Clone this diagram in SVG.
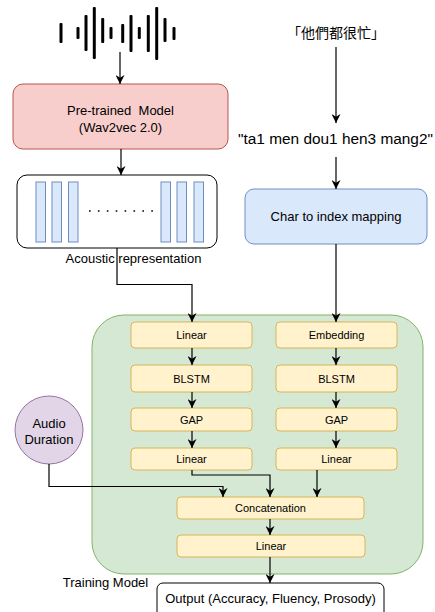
<svg xmlns="http://www.w3.org/2000/svg" width="435" height="612" viewBox="0 0 435 612">
<defs>
<marker id="arr" viewBox="0 0 10 10" refX="10" refY="5" markerWidth="9" markerHeight="9" markerUnits="userSpaceOnUse" orient="auto">
<path d="M0,0 L10,5 L0,10 L3,5 z" fill="#000"/>
</marker>
<style>
text{font-family:"Liberation Sans",Arial,sans-serif;fill:#000;text-anchor:middle}
.t13{font-size:13px}
.t11{font-size:11px}
.yel{fill:#fff2cc;stroke:#d6b656;stroke-width:1}
.conn{fill:none;stroke:#000;stroke-width:1.2;marker-end:url(#arr)}
.line{fill:none;stroke:#000;stroke-width:1.2}
.bar{fill:#dae8fc;stroke:#6c8ebf;stroke-width:1}
.wave{fill:#000}
</style>
</defs>
<rect width="435" height="612" fill="#fff"/>

<g id="waveform">
<rect class="wave" x="59.5" y="23" width="3" height="20" rx="1"/>
<rect class="wave" x="76.5" y="27" width="3" height="12" rx="1"/>
<rect class="wave" x="84.5" y="15" width="3" height="36" rx="1"/>
<rect class="wave" x="92.8" y="7" width="3" height="52" rx="1"/>
<rect class="wave" x="101.2" y="18" width="3" height="25" rx="1"/>
<rect class="wave" x="109.5" y="27" width="3" height="12" rx="1"/>
<rect class="wave" x="121.2" y="24" width="3" height="19" rx="1"/>
<rect class="wave" x="129.5" y="15" width="3" height="37" rx="1"/>
<rect class="wave" x="137.8" y="27" width="3" height="12" rx="1"/>
<rect class="wave" x="146.8" y="15" width="3" height="37" rx="1"/>
<rect class="wave" x="155.2" y="7" width="3" height="53" rx="1"/>
<rect class="wave" x="163.5" y="18" width="3" height="24" rx="1"/>
<rect class="wave" x="172.5" y="27" width="3" height="13" rx="1"/>
</g>

<g id="pretrained">
<rect x="13" y="84" width="215" height="65" rx="10" fill="#f8cecc" stroke="#b85450" stroke-width="1"/>
<text class="t13" x="120.5" y="114.5" xml:space="preserve">Pre-trained  Model</text>
<text class="t13" x="120.5" y="132">(Wav2vec 2.0)</text>
</g>

<g id="acoustic">
<rect x="17" y="175" width="200" height="73" rx="10" fill="#fff" stroke="#000" stroke-width="1"/>
<rect class="bar" x="36" y="182" width="9.5" height="60"/>
<rect class="bar" x="52" y="182" width="9.5" height="60"/>
<rect class="bar" x="68.5" y="182" width="9.5" height="60"/>
<rect class="bar" x="161" y="182" width="9.5" height="60"/>
<rect class="bar" x="177" y="182" width="9.5" height="60"/>
<rect class="bar" x="194" y="182" width="9.5" height="60"/>
<line x1="89" y1="211" x2="154" y2="211" stroke="#000" stroke-width="1.6" stroke-dasharray="1.6 7.3"/>
<text class="t13" x="133.5" y="263">Acoustic representation</text>
</g>

<g id="chinese">
<text x="336" y="38" style="font-size:14px;font-family:'Noto Sans CJK TC','Noto Sans CJK SC',sans-serif">「他們都很忙」</text>
</g>

<g id="pinyin">
<text x="335.5" y="143.5" style="font-size:15.4px">"ta1 men dou1 hen3 mang2"</text>
</g>

<g id="charmap">
<rect x="245" y="189" width="182" height="55" rx="9" fill="#dae8fc" stroke="#6c8ebf" stroke-width="1"/>
<text class="t13" x="336" y="221">Char to index mapping</text>
</g>

<g id="training">
<rect x="92" y="315" width="331" height="259" rx="32" fill="#d5e8d4" stroke="#82b366" stroke-width="1"/>
<text class="t13" x="105.5" y="587">Training Model</text>
</g>

<g id="linear1"><rect class="yel" x="131" y="322" width="121" height="26" rx="4"/><text class="t11" x="191.5" y="339">Linear</text></g>
<g id="blstm1"><rect class="yel" x="131" y="365" width="121" height="27" rx="4"/><text class="t11" x="191.5" y="382.5">BLSTM</text></g>
<g id="gap1"><rect class="yel" x="131" y="408" width="121" height="23" rx="4"/><text class="t11" x="191.5" y="423.5">GAP</text></g>
<g id="linear2"><rect class="yel" x="131" y="448" width="121" height="22" rx="4"/><text class="t11" x="191.5" y="463">Linear</text></g>

<g id="embedding"><rect class="yel" x="276" y="322" width="121" height="26" rx="4"/><text class="t11" x="336.5" y="339">Embedding</text></g>
<g id="blstm2"><rect class="yel" x="276" y="365" width="121" height="27" rx="4"/><text class="t11" x="336.5" y="382.5">BLSTM</text></g>
<g id="gap2"><rect class="yel" x="276" y="408" width="121" height="23" rx="4"/><text class="t11" x="336.5" y="423.5">GAP</text></g>
<g id="linear3"><rect class="yel" x="276" y="448" width="121" height="22" rx="4"/><text class="t11" x="336.5" y="463">Linear</text></g>

<g id="concat"><rect class="yel" x="177" y="497" width="187" height="22" rx="4"/><text class="t11" x="270.5" y="512">Concatenation</text></g>
<g id="linear4"><rect class="yel" x="177" y="535" width="188" height="22" rx="4"/><text class="t11" x="271" y="550">Linear</text></g>

<g id="audioduration">
<circle cx="49" cy="430" r="34" fill="#e1d5e7" stroke="#9673a6" stroke-width="1"/>
<text class="t13" x="49" y="427.5">Audio</text>
<text class="t13" x="49" y="444">Duration</text>
</g>

<g id="output">
<rect x="157" y="583" width="227" height="40" rx="6" fill="#fff" stroke="#000" stroke-width="1"/>
<text class="t13" x="270.5" y="602.5">Output (Accuracy, Fluency, Prosody)</text>
</g>

<g id="connectors">
<path class="conn" d="M120,52 V84"/>
<path class="conn" d="M121,149 V175"/>
<path class="conn" d="M117,248 V284.5 H192 V322"/>
<path class="conn" d="M336,47 V123"/>
<path class="conn" d="M336,157 V189"/>
<path class="conn" d="M336,244 V322"/>
<path class="conn" d="M192,348 V365"/>
<path class="conn" d="M192,392 V408"/>
<path class="conn" d="M192,431 V448"/>
<path class="conn" d="M336,348 V365"/>
<path class="conn" d="M336,392 V408"/>
<path class="conn" d="M336,431 V448"/>
<path class="conn" d="M192,470 V475 H270 V497"/>
<path class="conn" d="M317,470 V497"/>
<path class="conn" d="M49,464 V486.5 H223 V497"/>
<path class="conn" d="M270,519 V535"/>
<path class="conn" d="M270,557 V583"/>
</g>
</svg>
